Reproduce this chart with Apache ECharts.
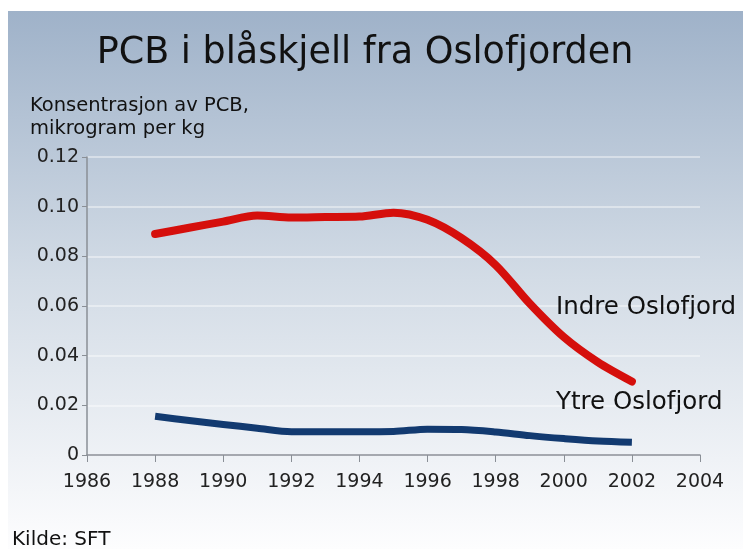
<!DOCTYPE html>
<html>
<head>
<meta charset="utf-8">
<script src="https://cdn.jsdelivr.net/npm/echarts@6/dist/echarts.min.js"></script>
<style>
  html, body { margin: 0; padding: 0; background: #fff; }
  #chart { width: 743px; height: 549px; }
</style>
</head>
<body>
<div id="chart"></div>
<script>
// data
const years = [1988, 1989, 1990, 1991, 1992, 1993, 1994, 1995, 1996, 1997, 1998, 1999, 2000, 2001, 2002]
const indre = [0.089, 0.0915, 0.094, 0.0964, 0.0956, 0.0958, 0.096, 0.0976, 0.0947, 0.0873, 0.0765, 0.061, 0.0475, 0.0374, 0.0296]
const ytre = [0.0156, 0.0139, 0.0123, 0.0108, 0.0094, 0.0094, 0.0094, 0.0095, 0.0104, 0.0103, 0.0093, 0.0078, 0.0066, 0.0056, 0.0051]
const yTicks = ['0', '0.02', '0.04', '0.06', '0.08', '0.10', '0.12']

const font = 'DejaVu Sans, Verdana, sans-serif'
const chart = echarts.init(document.getElementById('chart'))

function label(text, x, y, size, align) {
  return {
    type: 'text', x: x, y: y, z: 100, silent: true,
    style: {text: text, font: size + 'px ' + font, fill: '#111', align: align || 'left', verticalAlign: 'middle'}
  }
}

chart.setOption({
  animation: false,
  graphic: [
    {
      type: 'rect', z: -10, silent: true,
      shape: {x: 8, y: 11, width: 735, height: 538},
      style: {
        fill: new echarts.graphic.LinearGradient(0, 0, 0, 1, [
          {offset: 0, color: '#9fb2c9'},
          {offset: 0.5, color: '#d3dce6'},
          {offset: 1, color: '#fdfdfe'}
        ])
      }
    },
    label('PCB i blåskjell fra Oslofjorden', 365, 54, 36.5, 'center'),
    label('Konsentrasjon av PCB,', 30, 106, 19.5),
    label('mikrogram per kg', 30, 129, 19.5),
    label('Indre Oslofjord', 556, 308, 24.5),
    label('Ytre Oslofjord', 556, 403, 24.5),
    label('Kilde: SFT', 12, 540, 20)
  ],
  grid: {left: 87, right: 43, top: 157, bottom: 94},
  xAxis: {
    type: 'value', min: 1986, max: 2004, interval: 2,
    axisLine: {lineStyle: {color: '#8a8f96', width: 1.5}},
    axisTick: {show: true, length: 7, lineStyle: {color: '#8a8f96'}},
    axisLabel: {color: '#222', fontSize: 19, fontFamily: font, margin: 18, formatter: (v) => String(v)},
    splitLine: {show: false}
  },
  yAxis: {
    type: 'value', min: 0, max: 0.12, interval: 0.02,
    axisLine: {show: true, lineStyle: {color: '#8a8f96', width: 1.5}},
    axisTick: {show: true, length: 5, lineStyle: {color: '#8a8f96'}},
    axisLabel: {
      color: '#222', fontSize: 19, fontFamily: font, margin: 8,
      formatter: (v) => yTicks[Math.round(v / 0.02)]
    },
    splitLine: {lineStyle: {color: 'rgba(255,255,255,0.55)', width: 1.5}}
  },
  series: [
    {
      name: 'Indre Oslofjord', type: 'line', smooth: 0.3, symbol: 'none',
      data: years.map((y, i) => [y, indre[i]]),
      lineStyle: {color: '#d50f0c', width: 8, cap: 'round', join: 'round'}
    },
    {
      name: 'Ytre Oslofjord', type: 'line', smooth: 0.3, symbol: 'none',
      data: years.map((y, i) => [y, ytre[i]]),
      lineStyle: {color: '#123a70', width: 7, join: 'round'}
    }
  ]
})
</script>
</body>
</html>
